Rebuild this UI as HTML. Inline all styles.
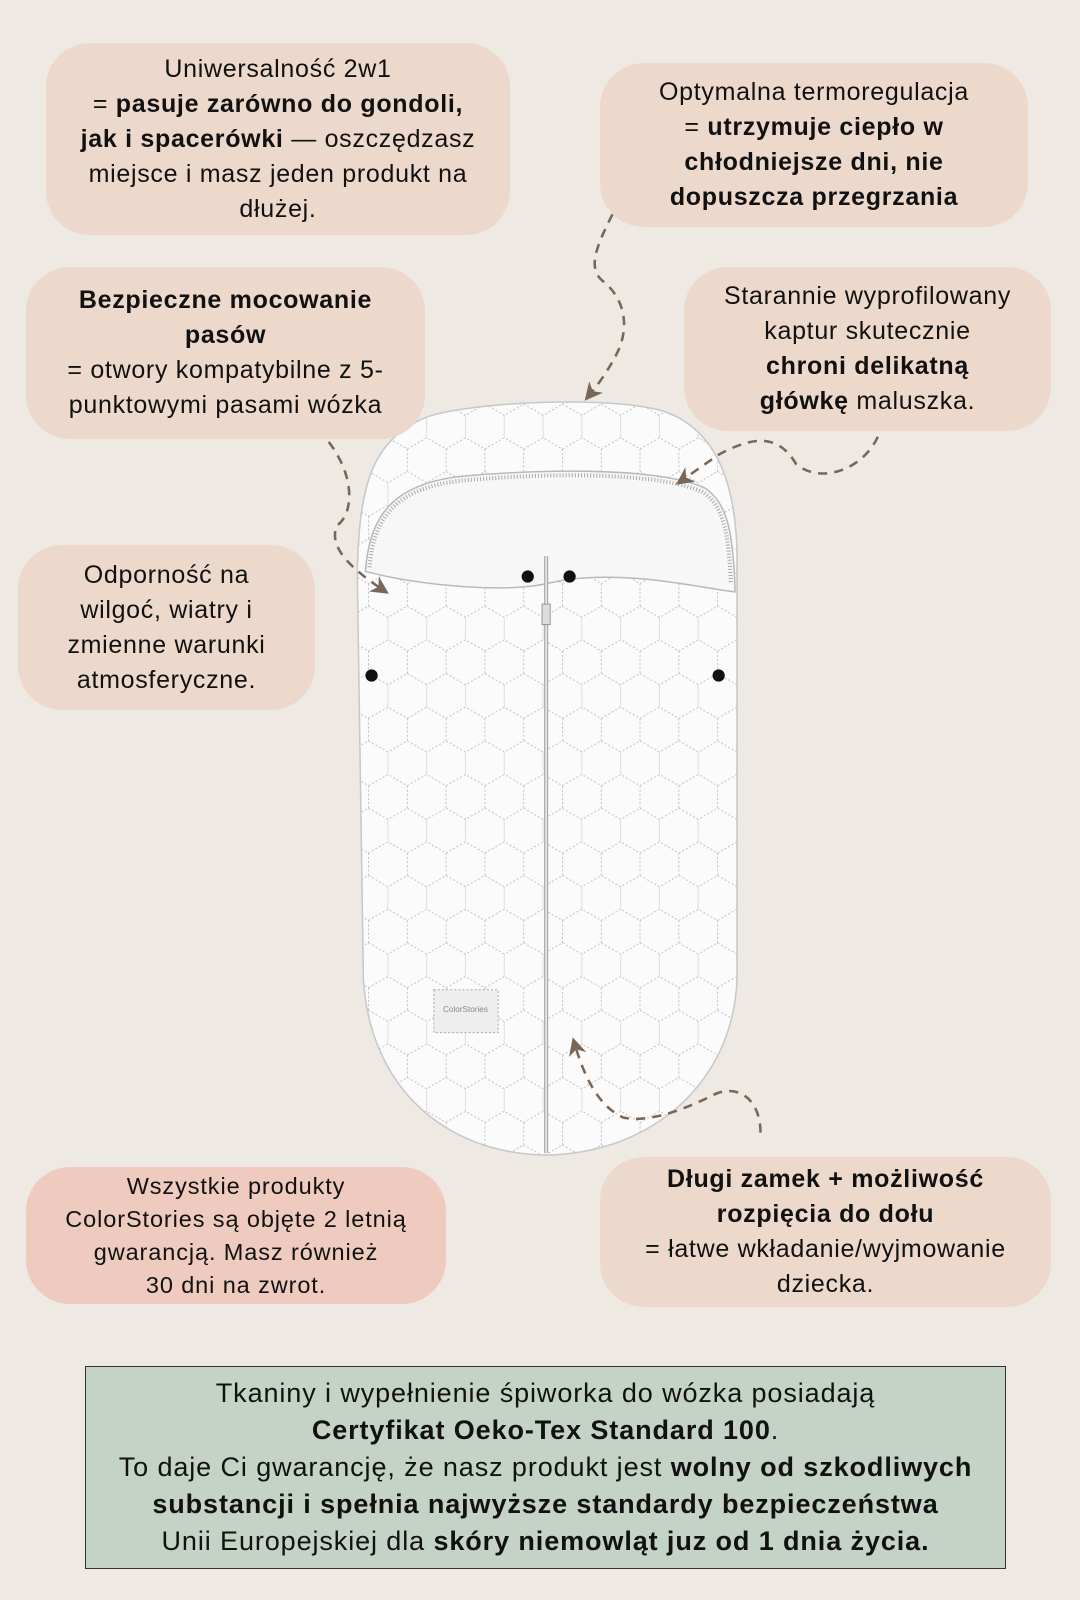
<!DOCTYPE html>
<html><head><meta charset="utf-8"><style>
body{margin:0;}
#p{position:relative;width:1080px;height:1600px;background:#eee9e3;overflow:hidden;font-family:"Liberation Sans",sans-serif;color:#111;}
.b{position:absolute;background:#ecd9cb;border-radius:44px;display:flex;flex-direction:column;justify-content:center;align-items:center;text-align:center;font-size:25px;letter-spacing:0.7px;line-height:35px;box-sizing:border-box;padding:0 6px;white-space:nowrap;}
.b b{font-weight:bold;}
svg{position:absolute;left:0;top:0;}
</style></head><body><div id="p">
<svg width="1080" height="1600" viewBox="0 0 1058 1568" preserveAspectRatio="none">
<defs>
<pattern id="hx" width="38" height="66" patternUnits="userSpaceOnUse">
<path d="M19,0 L38,11 L38,33 L19,44 L0,33 L0,11 Z M19,44 L19,66" fill="none" stroke="#c2c2c2" stroke-width="1" stroke-dasharray="2,2"/>
</pattern>
<clipPath id="bag"><path d="M535,1132 C430,1130 362,1060 356,960 L350,560 C352,480 362,430 420,408 C470,393 600,388 650,403 C700,420 720,470 722,540 L722,960 C718,1060 640,1130 535,1132 Z"/></clipPath>
<marker id="ah" viewBox="0 0 10 10" refX="8" refY="5" markerWidth="7" markerHeight="7" orient="auto"><path d="M0,0 L10,5 L0,10 L3,5 Z" fill="#7a6656"/></marker>
</defs>
<path d="M535,1132 C430,1130 362,1060 356,960 L350,560 C352,480 362,430 420,408 C470,393 600,388 650,403 C700,420 720,470 722,540 L722,960 C718,1060 640,1130 535,1132 Z" fill="#fbfbfb" stroke="#c8c8c8" stroke-width="1.5"/>
<rect x="340" y="380" width="400" height="760" fill="url(#hx)" clip-path="url(#bag)"/>
<path d="M358,560 C362,505 385,475 450,467 C550,458 650,460 690,478 C712,492 718,520 720,575 L720,580 C680,575 620,560 555,568 L535,572 C500,580 420,576 358,560 Z" fill="#f7f7f7" stroke="#b9b9b9" stroke-width="1.5"/>
<path d="M362,556 C366,505 390,478 452,471 C550,462 648,464 688,482 C708,495 714,520 716,572" fill="none" stroke="#aaa" stroke-width="4" stroke-dasharray="1,2"/>
<path d="M535,545 L535,1130" stroke="#aaa" stroke-width="4"/>
<path d="M535,545 L535,1130" stroke="#eee" stroke-width="1.5"/>
<rect x="531" y="592" width="8" height="20" fill="#ddd" stroke="#999"/>
<circle cx="517" cy="565" r="6" fill="#111"/><circle cx="558" cy="565" r="6" fill="#111"/>
<circle cx="364" cy="662" r="6" fill="#111"/><circle cx="704" cy="662" r="6" fill="#111"/>
<rect x="425" y="970" width="63" height="42" fill="#eee" stroke="#aaa" stroke-dasharray="2,2"/>
<text x="456" y="992" font-size="8" fill="#888" text-anchor="middle" font-family="Liberation Sans">ColorStories</text>
<g fill="none" stroke="#7a6656" stroke-width="2.5" stroke-dasharray="9,7">
<path d="M600,210 C585,240 575,262 590,275 C612,292 617,320 605,345 C595,365 585,378 575,390" marker-end="url(#ah)"/>
<path d="M860,428 C845,460 805,475 780,455 C760,420 730,432 705,445 C690,455 675,466 665,473" marker-end="url(#ah)"/>
<path d="M322,433 C350,470 345,505 330,515 C322,535 340,555 378,580" marker-end="url(#ah)"/>
<path d="M745,1110 C745,1075 720,1060 695,1075 C660,1092 630,1100 610,1095 C590,1085 575,1065 562,1020" marker-end="url(#ah)"/>
</g>
</svg>
<div class="b" style="left:46px;top:43px;width:464px;height:192px;">Uniwersalność 2w1<span>= <b>pasuje zarówno do gondoli,</b></span><span><b>jak i spacerówki</b> — oszczędzasz</span><span>miejsce i masz jeden produkt na</span><span>dłużej.</span></div>
<div class="b" style="left:600px;top:63px;width:428px;height:164px;">Optymalna termoregulacja<span>= <b>utrzymuje ciepło w</b></span><b>chłodniejsze dni, nie</b><b>dopuszcza przegrzania</b></div>
<div class="b" style="left:26px;top:267px;width:399px;height:172px;"><b>Bezpieczne mocowanie</b><b>pasów</b><span>= otwory kompatybilne z 5-</span><span>punktowymi pasami wózka</span></div>
<div class="b" style="left:684px;top:267px;width:367px;height:164px;">Starannie wyprofilowany<span>kaptur skutecznie</span><b>chroni delikatną</b><span><b>główkę</b> maluszka.</span></div>
<div class="b" style="left:18px;top:545px;width:297px;height:165px;">Odporność na<span>wilgoć, wiatry i</span><span>zmienne warunki</span><span>atmosferyczne.</span></div>
<div class="b" style="left:26px;top:1167px;width:420px;height:137px;background:#efcbbf;font-size:23.5px;letter-spacing:0.9px;line-height:33px;">Wszystkie produkty<span>ColorStories są objęte 2 letnią</span><span>gwarancją. Masz również</span><span>30 dni na zwrot.</span></div>
<div class="b" style="left:600px;top:1157px;width:451px;height:150px;"><b>Długi zamek + możliwość</b><b>rozpięcia do dołu</b><span>= łatwe wkładanie/wyjmowanie</span><span>dziecka.</span></div>
<div class="b" style="left:85px;top:1366px;width:921px;height:203px;background:#c4d3c6;border:1.5px solid #333;border-radius:0;font-size:27px;letter-spacing:0.9px;line-height:37px;">Tkaniny i wypełnienie śpiworka do wózka posiadają<span><b>Certyfikat Oeko-Tex Standard 100</b>.</span><span>To daje Ci gwarancję, że nasz produkt jest <b>wolny od szkodliwych</b></span><b>substancji i spełnia najwyższe standardy bezpieczeństwa</b><span>Unii Europejskiej dla <b>skóry niemowląt juz od 1 dnia życia.</b></span></div>
</div></body></html>
